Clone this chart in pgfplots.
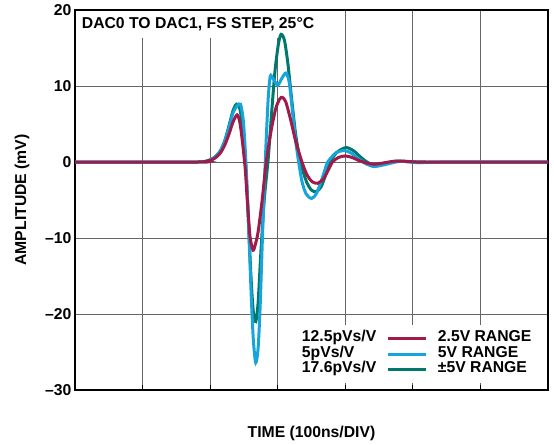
\documentclass[border=0pt]{standalone}
\usepackage{pgfplots}
\pgfplotsset{compat=1.18}
\usepackage{fontspec}
\setmainfont{Liberation Sans}
\definecolor{cred}{HTML}{A01A4A}
\definecolor{cblue}{HTML}{16A4DA}
\definecolor{cteal}{HTML}{00786C}
\newcommand{\lf}{\fontsize{15.8}{15.8}\selectfont\bfseries}
\begin{document}
\begin{tikzpicture}
\begin{axis}[
  scale only axis, width=473bp, height=380bp,
  xmin=0, xmax=700, ymin=-30, ymax=20,
  xtick={100,200,...,600}, xticklabels={},
  ytick={-30,-20,...,20}, yticklabels={–30,–20,–10,0,10,20},
  grid=major, major grid style={black!60, line width=0.9bp},
  axis line style={line width=1.2bp},
  xtick pos=left, ytick pos=left,
  major tick length=5bp, tick style={black, line width=0.9bp},
  ytick style={draw=none},
  yticklabel style={font=\lf},
  xlabel={TIME (100ns/DIV)}, ylabel={AMPLITUDE (mV)},
  label style={font=\lf},
  xlabel style={at={(axis description cs:0.5,-0.113)}, anchor=center},
  ylabel style={at={(axis description cs:-0.112,0.5)}, anchor=center},
  legend style={font=\lf, draw=none, fill=white, anchor=north west,
    at={(axis cs:326.6,-21.4)}, inner xsep=6bp, inner ysep=6bp,
    row sep=0pt, column sep=0pt,
    nodes={inner sep=0pt, text height=11bp, text depth=4.5bp, anchor=west}},
  legend cell align=left, reverse legend,
]
\node[anchor=north west, fill=white, inner xsep=6bp, inner ysep=0pt, minimum height=27bp, font=\lf]
  at ([xshift=0.7bp,yshift=-0.7bp]rel axis cs:0,1) {DAC0 TO DAC1, FS STEP, 25°C};
\coordinate (sw) at (rel axis cs:0,0);
\coordinate (ne) at (rel axis cs:1,1);

\addplot[color=cteal, line width=3bp, smooth, tension=0.45,
  legend image code/.code={\node[anchor=west, inner sep=0pt, text=black, font=\lf] at (-88bp,0) {17.6pVs/V};
    \draw[color=cteal, line width=3bp] (0bp,0bp) -- (38bp,0bp); \path (48bp,0);}]
coordinates {(0,0)(182,0)(194,0.1)(203,0.4)(210,0.9)(216,1.6)(222,2.9)(228,4.8)(234,6.8)(239,7.6)(244,7.0)(248,4.5)(252,0.5)(255,-4.5)(258,-10.5)(261,-16)(264,-19.8)(267.5,-21)(271,-18.5)(275,-12)(280,-5)(286,0.5)(291,6.5)(296,12)(301,15.5)(305,16.8)(310,16)(315,13)(320,8.8)(326,4)(331,1.2)(335,-0.5)(343,-2.7)(350,-3.7)(357,-3.9)(364,-3.3)(371,-1.7)(377,0)(388,1.3)(401,1.9)(412,1.5)(422,0.7)(432,0.0)(443,-0.4)(458,-0.2)(475,0.1)(495,0.05)(520,0)(700,0)};

\addplot[color=cblue, line width=3bp, smooth, tension=0.45,
  legend image code/.code={\node[anchor=west, inner sep=0pt, text=black, font=\lf] at (-88bp,0) {5pVs/V};
    \draw[color=cblue, line width=3bp] (0bp,0bp) -- (38bp,0bp); \path (48bp,0);}]
coordinates {(0,0)(182,0)(194,0.1)(203,0.4)(210,0.9)(216,1.6)(222,2.8)(228,4.6)(234,6.5)(240,7.4)(245,7.6)(249,5.5)(252,1.5)(255,-4)(258,-11)(261,-18)(264,-23.5)(267.5,-26.4)(271,-24.5)(274,-19)(277,-11)(280,-3.5)(283,3)(286,8.5)(289,11.3)(293,11.0)(300,10.1)(306,11)(312,11.7)(317,10.5)(322,6.5)(327,2.5)(331,0)(336,-2.6)(342,-4.2)(350,-4.8)(357,-4.2)(364,-2.6)(370,-1)(374,0)(386,1.2)(399,1.5)(410,1.1)(420,0.4)(430,-0.2)(442,-0.6)(456,-0.4)(470,-0.1)(482,0.1)(495,0)(510,-0.1)(540,0)(700,0)};

\addplot[color=cred, line width=3bp, smooth, tension=0.45,
  legend image code/.code={\node[anchor=west, inner sep=0pt, text=black, font=\lf] at (-88bp,0) {12.5pVs/V};
    \draw[color=cred, line width=3bp] (0bp,0bp) -- (38bp,0bp); \path (48bp,0);}]
coordinates {(0,0)(182,0)(194,0.1)(203,0.3)(210,0.7)(216,1.3)(222,2.3)(228,3.7)(234,5.3)(240,6.2)(244,5.2)(248,2.5)(252,-1)(255,-5)(259,-9.8)(263.5,-11.6)(267,-10.8)(271,-9.2)(277,-5)(283,0)(290,4)(297,7)(303,8.3)(307,8.5)(312,7.9)(319,5.6)(327,2.6)(337,-0.3)(344,-1.8)(351,-2.6)(359,-2.8)(367,-2.3)(374,-1.2)(381,0)(390,0.6)(400,0.8)(410,0.6)(420,0.2)(430,-0.1)(443,-0.3)(458,-0.1)(472,0.1)(488,0.1)(505,0.0)(530,0)(700,0)};

\legend{\textpm5V RANGE,5V RANGE,2.5V RANGE}
\end{axis}
\path ([shift={(-75bp,-54bp)}]sw) rectangle ([shift={(6bp,10bp)}]ne);
\end{tikzpicture}
\end{document}
